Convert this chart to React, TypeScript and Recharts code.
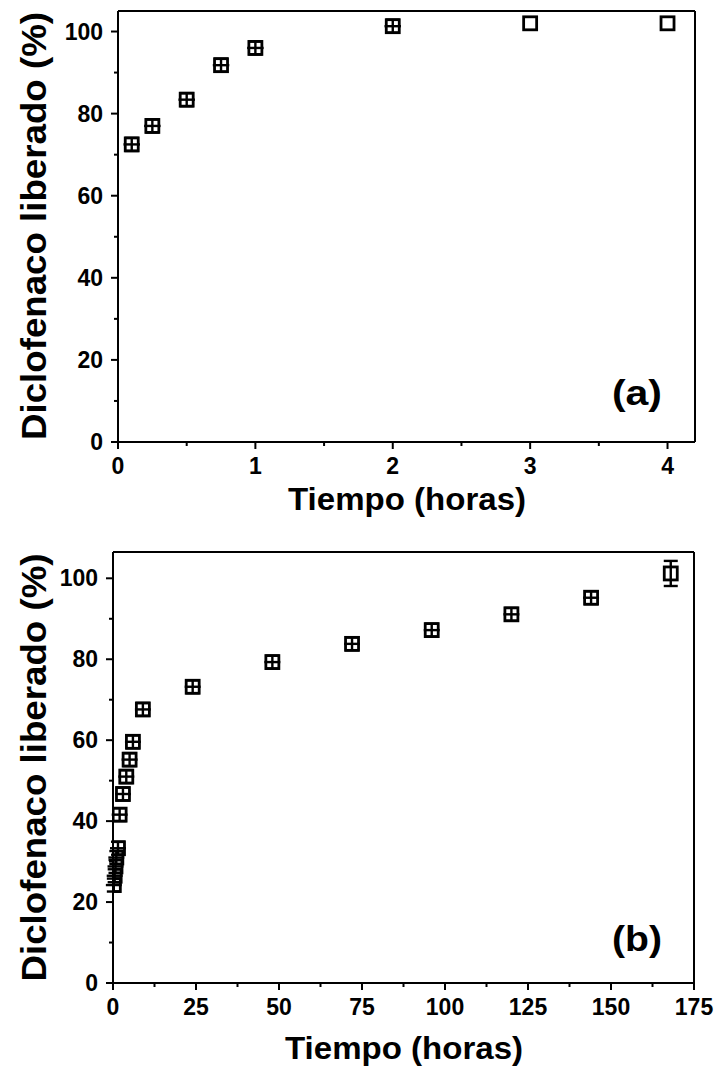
import React from 'react';
import { ScatterChart, Scatter, XAxis, YAxis, ErrorBar, ReferenceLine, Customized } from 'recharts';

// (a) primeras horas
const tiempoA = [0.1, 0.25, 0.5, 0.75, 1, 2, 3, 4];
const liberadoA = [72.5, 77, 83.4, 91.8, 96, 101.3, 102, 102];
const sdA = [1.6, 1.6, 1.6, 1.6, 1.6, 1.6, 0, 0];
const sdxA = [0.06, 0.06, 0.06, 0.06, 0.06, 0.06, 0, 0];

// (b) ensayo completo
const tiempoB = [0.25, 0.5, 0.75, 1, 1.5, 2, 3, 4, 5, 6, 9, 24, 48, 72, 96, 120, 144, 168];
const liberadoB = [24.2, 26.5, 28.8, 31, 33.3, 41.6, 46.7, 51, 55.2, 59.6, 67.6, 73.2, 79.3, 83.8, 87.2, 91.1, 95.2, 101.2];
const sdB = [1.6, 1.6, 1.6, 1.6, 1.6, 1.6, 1.6, 1.6, 1.6, 1.6, 1.6, 1.6, 1.6, 1.6, 1.6, 1.6, 1.6, 3.1];
const sdxB = [2.4, 2.4, 2.4, 2.4, 2.4, 2.4, 2.4, 2.4, 2.4, 2.4, 2.4, 2.4, 2.4, 2.4, 2.4, 2.4, 2.4, 0];

const ticksY = [0, 10, 20, 30, 40, 50, 60, 70, 80, 90, 100];
const ticksXA = [0, 0.5, 1, 1.5, 2, 2.5, 3, 3.5, 4];
const ticksXB = [0, 12.5, 25, 37.5, 50, 62.5, 75, 87.5, 100, 112.5, 125, 137.5, 150, 162.5, 175];

const dataA = tiempoA.map((t, i) => ({ t, v: liberadoA[i], sd: sdA[i], sdx: sdxA[i] }));
const dataB = tiempoB.map((t, i) => ({ t, v: liberadoB[i], sd: sdB[i], sdx: sdxB[i] }));

const FONT = '"Liberation Sans", Arial, Helvetica, sans-serif';

const yTick = (axisX: number) => (props: any) => {
  const { y, payload } = props;
  const v = payload.value;
  const major = v % 20 === 0;
  return (
    <g>
      <line x1={axisX - (major ? 7 : 4)} x2={axisX} y1={y} y2={y} stroke="#000" strokeWidth={2} />
      {major && (
        <text x={axisX - 15} y={y} textAnchor="end" dominantBaseline="central"
          fontFamily={FONT} fontWeight="bold" fontSize={23} fill="#000">{v}</text>
      )}
    </g>
  );
};

const xTick = (axisY: number, isMajor: (v: number) => boolean) => (props: any) => {
  const { x, payload } = props;
  const v = payload.value;
  const major = isMajor(v);
  return (
    <g>
      <line x1={x} x2={x} y1={axisY} y2={axisY + (major ? 7 : 4)} stroke="#000" strokeWidth={2} />
      {major && (
        <text x={x} y={axisY + 32} textAnchor="middle"
          fontFamily={FONT} fontWeight="bold" fontSize={23} fill="#000">{v}</text>
      )}
    </g>
  );
};

const Marca = (props: any) => {
  const { cx, cy } = props;
  if (cx == null || cy == null) return null;
  return <rect x={cx - 6.5} y={cy - 6.5} width={13} height={13} fill="none" stroke="#000" strokeWidth={2.8} />;
};

const Textos = ({ yMid, xMid, xBase, panel, panelBase }: any) => (
  <g fontFamily={FONT} fontWeight="bold" fill="#000">
    <text x={33} y={yMid} transform={`rotate(-90 33 ${yMid})`} textAnchor="middle" dominantBaseline="central"
      fontSize={35} textLength={428} lengthAdjust="spacingAndGlyphs">Diclofenaco liberado (%)</text>
    <text x={xMid} y={xBase} textAnchor="middle" fontSize={32} textLength={238} lengthAdjust="spacingAndGlyphs">Tiempo (horas)</text>
    <text x={637} y={panelBase} textAnchor="middle" fontSize={35} textLength={50} lengthAdjust="spacingAndGlyphs">{panel}</text>
  </g>
);

export default function App() {
  return (
    <div style={{ position: 'absolute', left: 0, top: 0, width: 721, height: 1073, background: '#fff' }}>
      <ScatterChart width={721} height={530} margin={{ top: 11, right: 26, bottom: 0, left: 0 }}>
        <XAxis type="number" dataKey="t" domain={[0, 4.2]} allowDataOverflow ticks={ticksXA} interval={0} height={88}
          axisLine={{ stroke: '#000', strokeWidth: 2 }} tickLine={false} tickSize={7}
          tick={xTick(442, (v) => Number.isInteger(v))} />
        <YAxis type="number" dataKey="v" domain={[0, 105]} allowDataOverflow ticks={ticksY} interval={0} width={118}
          axisLine={{ stroke: '#000', strokeWidth: 2 }} tickLine={false} tickSize={7}
          tick={yTick(118)} />
        <ReferenceLine y={105} stroke="#000" strokeWidth={2} />
        <ReferenceLine x={4.2} stroke="#000" strokeWidth={2} />
        <Scatter data={dataA} shape={<Marca />} isAnimationActive={false}>
          <ErrorBar dataKey="sd" direction="y" width={7} stroke="#000" strokeWidth={2.4} isAnimationActive={false} />
          <ErrorBar dataKey="sdx" direction="x" width={0} stroke="#000" strokeWidth={2.4} isAnimationActive={false} />
        </Scatter>
        <Customized component={<Textos yMid={226} xMid={407} xBase={510} panel="(a)" panelBase={405} />} />
      </ScatterChart>
      <ScatterChart width={721} height={543} margin={{ top: 22, right: 27, bottom: 0, left: 0 }}>
        <XAxis type="number" dataKey="t" domain={[0, 175]} allowDataOverflow ticks={ticksXB} interval={0} height={90}
          axisLine={{ stroke: '#000', strokeWidth: 2 }} tickLine={false} tickSize={7}
          tick={xTick(453, (v) => v % 25 === 0)} />
        <YAxis type="number" dataKey="v" domain={[0, 106.5]} allowDataOverflow ticks={ticksY} interval={0} width={113}
          axisLine={{ stroke: '#000', strokeWidth: 2 }} tickLine={false} tickSize={7}
          tick={yTick(113)} />
        <ReferenceLine y={106.5} stroke="#000" strokeWidth={2} />
        <ReferenceLine x={175} stroke="#000" strokeWidth={2} />
        <Scatter data={dataB} shape={<Marca />} isAnimationActive={false}>
          <ErrorBar dataKey="sd" direction="y" width={7} stroke="#000" strokeWidth={2.4} isAnimationActive={false} />
          <ErrorBar dataKey="sdx" direction="x" width={0} stroke="#000" strokeWidth={2.4} isAnimationActive={false} />
        </Scatter>
        <Customized component={<Textos yMid={237.5} xMid={404} xBase={529} panel="(b)" panelBase={421} />} />
      </ScatterChart>
    </div>
  );
}
